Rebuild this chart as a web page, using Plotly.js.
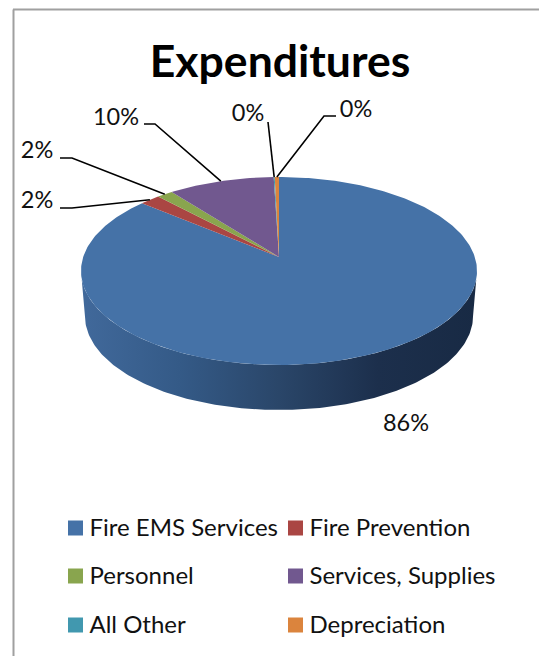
<!DOCTYPE html>
<html><head><meta charset="utf-8">
<script src="https://cdn.plot.ly/plotly-3.0.1.min.js"></script>
<style>html,body{margin:0;padding:0;background:#fff;overflow:hidden}</style>
</head><body><div id="chart" style="width:539px;height:656px"></div>
<script>
// Data
var categories = ["Fire EMS Services","Fire Prevention","Personnel","Services, Supplies","All Other","Depreciation"];
var values = [86.1, 1.9, 1.5, 10.0, 0.1, 0.4];
var colors = ["#4572A7","#AA4643","#89A54E","#71588F","#4198AF","#DB843D"];
var titleText = "Expenditures";

// Pie projection (tilted disc with perspective), in the pixel-scaled axes
var CX=279, APEX=257, R=195.8, A=91.9, K=0.149, DEPTH=45, BOTTOM_SCALE=0.98;
function proj(deg,scale,dy){
  var t=deg*Math.PI/180, u=Math.sin(t), v=Math.cos(t), w=1+K*v;
  return [CX+(scale*R*u)/w, APEX+dy-(A*v)/w];
}
var total=values.reduce(function(a,b){return a+b;},0);
var FONT="Lato, Carlito, Calibri, sans-serif", INK="#111111";
var traces=[];

// Side wall: front rim of the disc, between its two widest points
var wx=[],wy=[],d,p,front=[];
for(d=98.6;d<=261.4;d+=1){front.push(d);}
front.push(261.4);
front.forEach(function(a){p=proj(a,1,0);wx.push(p[0]);wy.push(p[1]);});
front.slice().reverse().forEach(function(a){p=proj(a,BOTTOM_SCALE,DEPTH);wx.push(p[0]);wy.push(p[1]);});
wx.push(wx[0]);wy.push(wy[0]);
traces.push({type:"scatter",mode:"lines",x:wx,y:wy,fill:"toself",line:{width:0,color:"rgba(0,0,0,0)"},
  fillgradient:{type:"horizontal",colorscale:[[0,"#41699b"],[0.25,"#345a87"],[0.5,"#2a4669"],[0.75,"#1c2f4c"],[1,"#182a44"]]},
  hoverinfo:"skip",showlegend:false});

// Top face slices, clockwise from 12 o'clock
var cum=0, mids=[];
values.forEach(function(v,i){
  var a0=cum/total*360, a1=(cum+v)/total*360, xs=[CX], ys=[APEX], n=Math.max(2,Math.ceil(a1-a0)), j;
  for(j=0;j<=n;j++){p=proj(a0+(a1-a0)*j/n,1,0);xs.push(p[0]);ys.push(p[1]);}
  xs.push(CX);ys.push(APEX);
  mids.push((a0+a1)/2);
  traces.push({type:"scatter",mode:"lines",x:xs,y:ys,fill:"toself",fillcolor:colors[i],
    line:{width:0,color:colors[i]},name:categories[i],hoverinfo:"name",showlegend:false});
  cum+=v;
});

// Leader lines and percentage labels (order matches categories)
var labelPos=[[406,425],[37,202],[37,152],[116,119],[248,115],[356,111]];
var elbows=[null,[[60,208],[72,208]],[[60,158],[72,158]],[[144,124],[155,124]],[[268,122]],[[336,116],[324,116]]];
elbows.forEach(function(e,i){
  if(!e)return;
  var tip=proj(mids[i],1,0), xs=e.map(function(q){return q[0];}), ys=e.map(function(q){return q[1];});
  xs.push(tip[0]);ys.push(tip[1]);
  traces.push({type:"scatter",mode:"lines",x:xs,y:ys,line:{color:"#000",width:1.6},hoverinfo:"skip",showlegend:false});
});
traces.push({type:"scatter",mode:"text",x:labelPos.map(function(q){return q[0];}),y:labelPos.map(function(q){return q[1];}),
  text:values.map(function(v){return Math.round(v)+"%";}),textposition:"middle center",
  textfont:{family:FONT,size:23.5,color:INK},hoverinfo:"skip",showlegend:false});

// Legend: two columns, three rows
var legendCols=[75.5,295.5], legendRows=[528,576,625], LEGEND_GAP=14, LEGEND_TEXT_DY=1.5;
categories.forEach(function(c,i){
  var x=legendCols[i%2], y=legendRows[Math.floor(i/2)];
  traces.push({type:"scatter",mode:"markers",x:[x],y:[y],
    marker:{symbol:"square",size:15,color:colors[i]},hoverinfo:"skip",showlegend:false});
  traces.push({type:"scatter",mode:"text",x:[x+LEGEND_GAP],y:[y+LEGEND_TEXT_DY],text:[c],textposition:"middle right",
    textfont:{family:FONT,size:24,color:INK},hoverinfo:"skip",showlegend:false});
});

var layout={width:539,height:656,margin:{l:0,r:0,t:0,b:0,pad:0},paper_bgcolor:"#fff",plot_bgcolor:"#fff",showlegend:false,
  title:{text:titleText,font:{family:FONT,size:44.5,color:"#000",weight:700},x:280/539,xanchor:"center",y:1-61/656,yanchor:"middle"},
  xaxis:{range:[0,539],visible:false,fixedrange:true},
  yaxis:{range:[656,0],visible:false,fixedrange:true},
  shapes:[{type:"line",xref:"paper",yref:"paper",x0:13.5/539,x1:13.5/539,y0:0,y1:1-9.5/656,line:{color:"#a0a0a0",width:2}},
          {type:"line",xref:"paper",yref:"paper",x0:13/539,x1:1,y0:1-9.5/656,y1:1-9.5/656,line:{color:"#a0a0a0",width:2}}]};
Plotly.newPlot("chart",traces,layout,{displayModeBar:false,responsive:false});
</script></body></html>
